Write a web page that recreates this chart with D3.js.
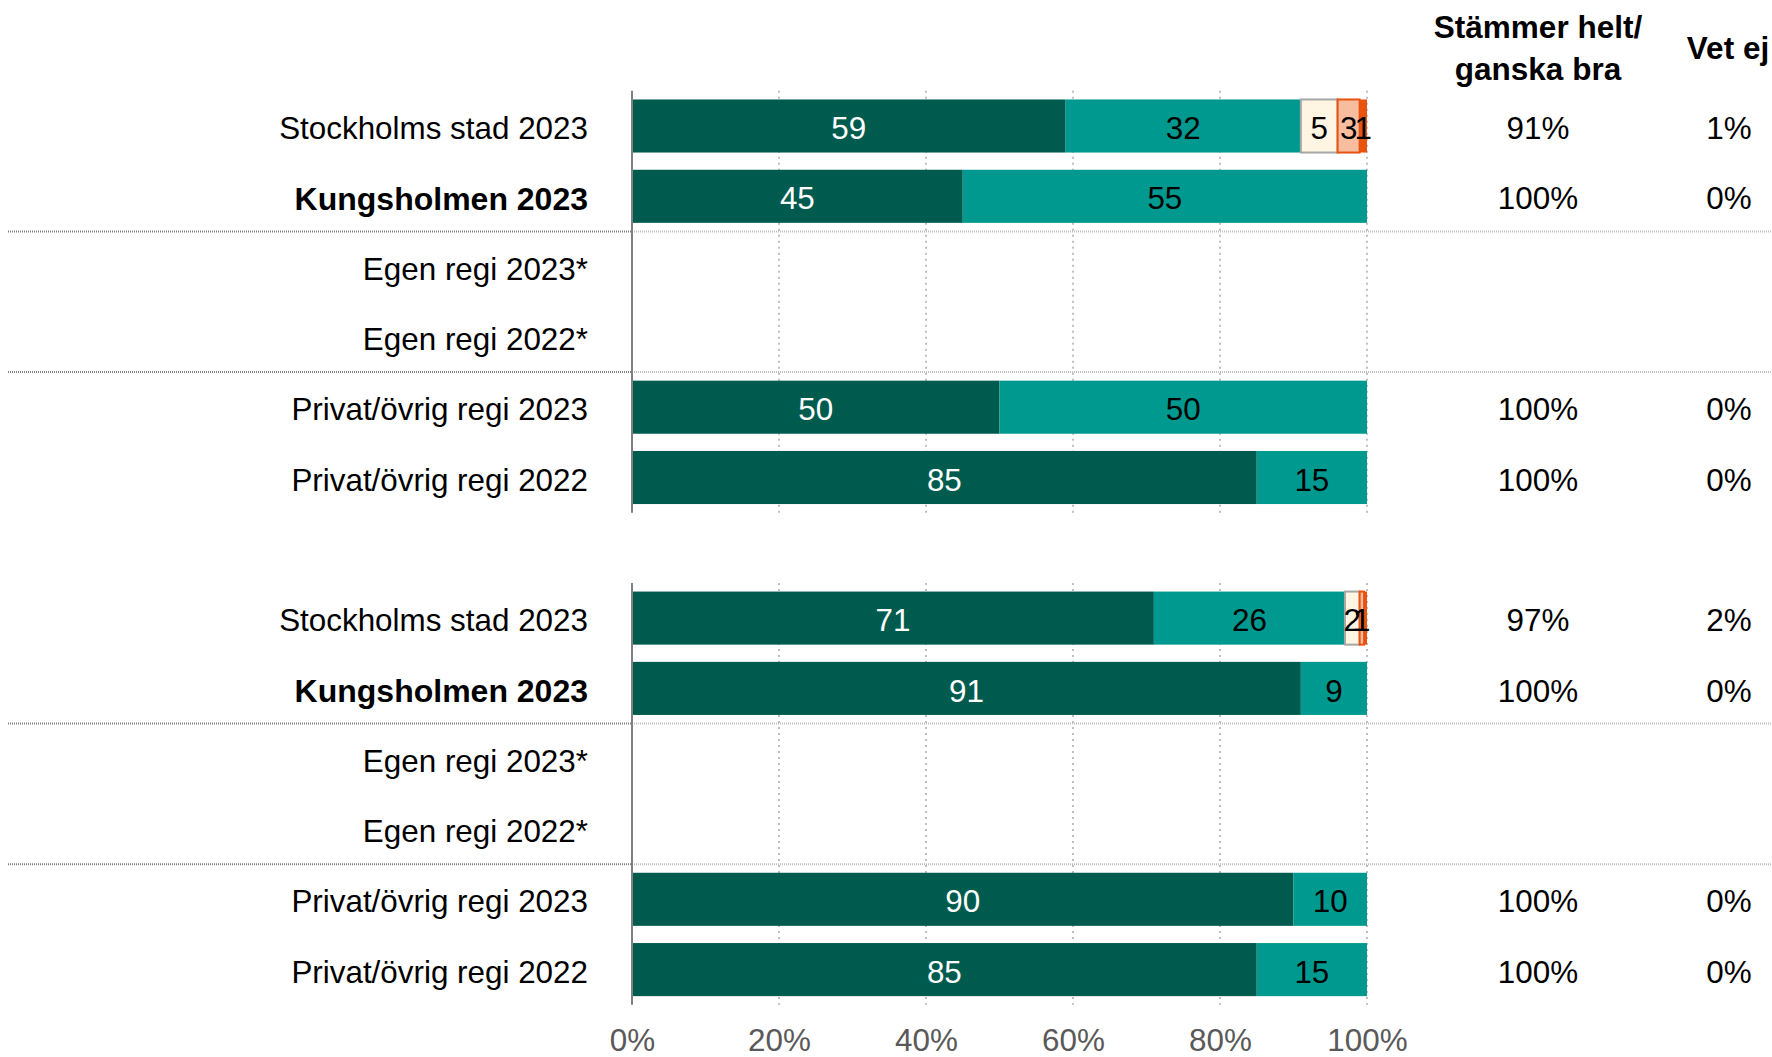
<!DOCTYPE html>
<html>
<head>
<meta charset="utf-8">
<script src="https://cdn.jsdelivr.net/npm/d3@7"></script>
<style>
  html, body { margin: 0; padding: 0; background: #ffffff; }
  svg { display: block; font-family: "Liberation Sans", Arial, sans-serif; }
</style>
</head>
<body>
<svg id="chart" width="1772" height="1057"></svg>
<script>
// Row labels shared by both panels
const categories = [
  "Stockholms stad 2023",
  "Kungsholmen 2023",
  "Egen regi 2023*",
  "Egen regi 2022*",
  "Privat/övrig regi 2023",
  "Privat/övrig regi 2022"
];
const boldCategory = "Kungsholmen 2023";

// Answer categories, stacked left to right
const seriesNames = ["Stämmer helt", "Stämmer ganska bra", "Stämmer ganska dåligt", "Stämmer mycket dåligt", "Stämmer inte alls"];
const seriesColors = ["#005B4F", "#00998F", "#FFF5E2", "#F8BC9E", "#E9530F"];
const seriesStroke = [null, null, "#A6A6A6", "#E9530F", null];
const labelColors = ["#ffffff", "#000000", "#000000", "#000000", "#000000"];

// Panel 1 (percent per answer category, null = no data)
const p1Helt      = [59, 45, null, null, 50, 85];
const p1Ganska    = [32, 55, null, null, 50, 15];
const p1Daligt    = [5, 0, null, null, 0, 0];
const p1Mycket    = [3, 0, null, null, 0, 0];
const p1InteAlls  = [1, 0, null, null, 0, 0];
const p1Good      = [91, 100, null, null, 100, 100];
const p1VetEj     = [1, 0, null, null, 0, 0];

// Panel 2
const p2Helt      = [71, 91, null, null, 90, 85];
const p2Ganska    = [26, 9, null, null, 10, 15];
const p2Daligt    = [2, 0, null, null, 0, 0];
const p2Mycket    = [0.6, 0, null, null, 0, 0];
const p2InteAlls  = [0.4, 0, null, null, 0, 0];
const p2Good      = [97, 100, null, null, 100, 100];
const p2VetEj     = [2, 0, null, null, 0, 0];

const tickValues = [0, 20, 40, 60, 80, 100];
const headerGood = ["Stämmer helt/", "ganska bra"];
const headerVetEj = "Vet ej";

const panels = [
  { series: [p1Helt, p1Ganska, p1Daligt, p1Mycket, p1InteAlls], good: p1Good, vetEj: p1VetEj, slot0: 0 },
  { series: [p2Helt, p2Ganska, p2Daligt, p2Mycket, p2InteAlls], good: p2Good, vetEj: p2VetEj, slot0: 7 }
];

const svg = d3.select("#chart");
const W = 1772;
const FONT = 31.4;
const FONT_BOLD = 32.0;
const DY = "0.42em";

const x = d3.scaleLinear().domain([0, 100]).range([632, 1367]);
const y = d3.scaleBand()
  .domain(d3.range(13))
  .range([90.85, 1004.75])
  .paddingInner(0.245)
  .paddingOuter(0.1225);
const step = y.step();
const bw = y.bandwidth();
const half = (step - bw) / 2;
const slotTop = i => y(i) - half;
const slotBottom = i => y(i) + bw + half;
const slotMid = i => y(i) + bw / 2;

const fmt = d3.format(".0f");
const colGood = 1538;
const colVetEj = 1729;

// Column headers
const hdr = svg.append("g").attr("font-weight", "bold").attr("font-size", 31.5).attr("fill", "#000");
hdr.append("text").attr("x", colGood).attr("y", 38).attr("text-anchor", "middle").text(headerGood[0]);
hdr.append("text").attr("x", colGood).attr("y", 80).attr("text-anchor", "middle").text(headerGood[1]);
hdr.append("text").attr("x", 1728).attr("y", 59).attr("text-anchor", "middle").text(headerVetEj);

panels.forEach(p => {
  const g = svg.append("g");
  const top = slotTop(p.slot0);
  const bottom = slotBottom(p.slot0 + categories.length - 1);

  // Dotted vertical gridlines
  g.append("g").selectAll("line")
    .data(tickValues.slice(1))
    .join("line")
    .attr("x1", d => x(d)).attr("x2", d => x(d))
    .attr("y1", top).attr("y2", bottom)
    .attr("stroke", "#BFBFBF").attr("stroke-width", 2)
    .attr("stroke-dasharray", "2,4");

  // Dotted separators around the "Egen regi" rows
  [p.slot0 + 1, p.slot0 + 3].forEach(i => {
    const sy = slotBottom(i);
    g.append("line").attr("x1", 8).attr("x2", x(0)).attr("y1", sy).attr("y2", sy)
      .attr("stroke", "#7F7F7F").attr("stroke-width", 2).attr("stroke-dasharray", "1,1");
    g.append("line").attr("x1", x(0)).attr("x2", W).attr("y1", sy).attr("y2", sy)
      .attr("stroke", "#BFBFBF").attr("stroke-width", 2).attr("stroke-dasharray", "1,1");
  });

  // Stacked bars
  const rows = categories.map((c, r) => {
    let acc = 0;
    const segs = p.series.map((s, k) => {
      const v = s[r];
      const seg = { k, v, x0: acc, x1: acc + (v || 0) };
      acc += v || 0;
      return seg;
    }).filter(s => s.v != null && s.v > 0);
    return { r, slot: p.slot0 + r, segs };
  });

  const rowG = g.append("g").selectAll("g").data(rows).join("g");
  rowG.selectAll("rect")
    .data(d => d.segs.map(s => ({ ...s, slot: d.slot })))
    .join("rect")
    .attr("x", d => x(d.x0))
    .attr("y", d => y(d.slot))
    .attr("width", d => x(d.x1) - x(d.x0))
    .attr("height", bw)
    .attr("fill", d => seriesColors[d.k])
    .attr("stroke", d => seriesStroke[d.k] || "none")
    .attr("stroke-width", 2);

  rowG.selectAll("text")
    .data(d => d.segs.map(s => ({ ...s, slot: d.slot })).filter(s => fmt(s.v) !== "0"))
    .join("text")
    .attr("x", d => (x(d.x0) + x(d.x1)) / 2)
    .attr("y", d => slotMid(d.slot))
    .attr("dy", DY)
    .attr("text-anchor", "middle")
    .attr("font-size", FONT)
    .attr("fill", d => labelColors[d.k])
    .text(d => fmt(d.v));

  // Category axis line
  g.append("line").attr("x1", x(0)).attr("x2", x(0)).attr("y1", top).attr("y2", bottom)
    .attr("stroke", "#808080").attr("stroke-width", 2);

  // Row labels
  g.append("g").selectAll("text")
    .data(categories)
    .join("text")
    .attr("x", 588)
    .attr("y", (d, i) => slotMid(p.slot0 + i))
    .attr("dy", DY)
    .attr("text-anchor", "end")
    .attr("font-size", d => d === boldCategory ? FONT_BOLD : FONT)
    .attr("font-weight", d => d === boldCategory ? "bold" : "normal")
    .attr("fill", "#000")
    .text(d => d);

  // Summary columns
  const sum = g.append("g").attr("font-size", FONT).attr("fill", "#000").attr("text-anchor", "middle");
  categories.forEach((c, i) => {
    if (p.good[i] != null) {
      sum.append("text").attr("x", colGood).attr("y", slotMid(p.slot0 + i)).attr("dy", DY)
        .text(p.good[i] + "%");
    }
    if (p.vetEj[i] != null) {
      sum.append("text").attr("x", colVetEj).attr("y", slotMid(p.slot0 + i)).attr("dy", DY)
        .text(p.vetEj[i] + "%");
    }
  });
});

// Percentage axis under the lower panel
const xAxis = d3.axisBottom(x).tickValues(tickValues).tickFormat(d => d + "%").tickSize(0).tickPadding(0);
const ax = svg.append("g").attr("transform", "translate(0,1029)").call(xAxis);
ax.select(".domain").remove();
ax.selectAll("text").attr("font-size", FONT).attr("fill", "#595959")
  .attr("font-family", "'Liberation Sans', Arial, sans-serif");
</script>
</body>
</html>
